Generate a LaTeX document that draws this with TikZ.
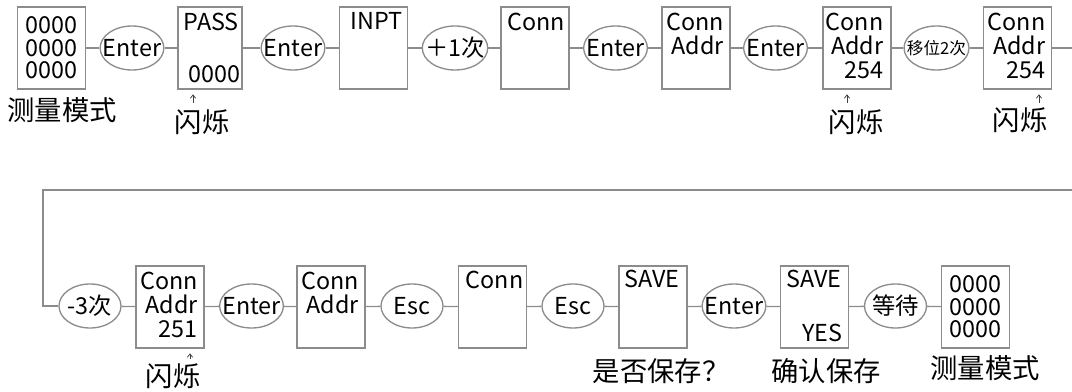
\documentclass[tikz,border=0pt]{standalone}
\usepackage{fontspec}
\setmainfont{Noto Sans CJK SC}
\usepackage{xcolor}
\usetikzlibrary{shapes.geometric,arrows.meta}

\definecolor{linegray}{RGB}{140,140,140}

\tikzset{
	panel/.style={draw=linegray, line width=1pt, minimum width=51pt, minimum height=61.5pt, inner sep=0pt},
	key/.style={ellipse, draw=linegray, line width=1pt, minimum width=46.5pt, minimum height=33pt,
		inner xsep=-5pt, inner ysep=0pt, font=\fontsize{17.5}{19}\selectfont},
	lcd/.style={inner sep=0pt, font=\fontsize{17.5}{18}\selectfont},
	zeros/.style={inner sep=0pt, align=center, font=\fontsize{17.5}{17}\selectfont},
	note/.style={inner sep=0pt, font=\fontsize{20.5}{23}\selectfont},
	link/.style={draw=linegray, line width=1pt},
	blink/.style={-{Straight Barb[length=2.5pt,width=4pt]}, line width=0.6pt, black!75, shorten >=3.5pt}
}

\begin{document}
\begin{tikzpicture}[x=0.75pt,y=-0.75pt]
	\useasboundingbox (0,0) rectangle (1072,392);
	
	\node[panel] (b1) at (51.5,48) {};
	\node[key] (k1) at (132,48) {Enter};
	\node[panel, minimum width=48pt] (b2) at (210,48) {};
	\node[key] (k2) at (293,48) {Enter};
	\node[panel] (b3) at (373.5,48) {};
	\node[key] (k3) at (455,48) {＋1次};
	\node[panel] (b4) at (535,48) {};
	\node[key] (k4) at (615.5,48) {Enter};
	\node[panel] (b5) at (696,48) {};
	\node[key] (k5) at (775.5,48) {Enter};
	\node[panel] (b6) at (857,48) {};
	\node[key, font=\fontsize{12.5}{14}\selectfont] (k6) at (936.5,48) {移位2次};
	\node[panel] (b7) at (1017.5,48) {};
	
	\node[zeros] (t1) at (b1) {0000\\0000\\0000};
	\node[lcd, anchor=north west] (t2a) at ([shift={(4.5pt,-4.5pt)}]b2.north west) {PASS};
	\node[lcd, anchor=south east] (t2b) at ([shift={(-1.5pt,5.25pt)}]b2.south east) {0000};
	\node[lcd, anchor=north east] (t3) at ([shift={(-4pt,-4pt)}]b3.north east) {INPT};
	\node[lcd, anchor=north] (t4) at ([shift={(1pt,-4.5pt)}]b4.north) {Conn};
	\node[lcd, anchor=north east, align=right] (t5) at ([shift={(-5pt,-4.5pt)}]b5.north east) {Conn\\Addr};
	\node[lcd, anchor=north east, align=right] (t6) at ([shift={(-6pt,-4.5pt)}]b6.north east) {Conn\\Addr\\254};
	\node[lcd, anchor=north east, align=right] (t7) at ([shift={(-5pt,-4.5pt)}]b7.north east) {Conn\\Addr\\254};
	
	\node[note] (n1) at (62,110) {测量模式};
	\node[note] (n2) at (202,122) {闪烁};
	\node[note] (n3) at (856,122) {闪烁};
	\node[note] (n4) at (1020,120) {闪烁};
	
	\coordinate (a2) at (193,103);
	\coordinate (a6) at (847,103);
	\coordinate (a7) at (1039,103);
	\draw[blink] (a2) -- (b2.south -| a2);
	\draw[blink] (a6) -- (b6.south -| a6);
	\draw[blink] (a7) -- (b7.south -| a7);
	
	\draw[link] (b1) -- (k1) -- (b2) -- (k2) -- (b3) -- (k3) -- (b4) -- (k4) -- (b5) -- (k5) -- (b6) -- (k6) -- (b7);
	
	\coordinate (e1) at (1072,48);
	\coordinate (e2) at (1072,190);
	\coordinate (e3) at (43,190);
	\draw[link] (b7) -- (e1);
	
	\node[key] (k7) at (90,306) {-3次};
	\node[panel] (b8) at (170,307) {};
	\node[key] (k8) at (251.5,306) {Enter};
	\node[panel] (b9) at (331,307) {};
	\node[key] (k9) at (412,306) {Esc};
	\node[panel] (b10) at (492.5,307) {};
	\node[key] (k10) at (573,306) {Esc};
	\node[panel] (b11) at (653,307) {};
	\node[key] (k11) at (734,306) {Enter};
	\node[panel] (b12) at (814.5,307) {};
	\node[key] (k12) at (895.5,306) {等待};
	\node[panel] (b13) at (975.5,307) {};
	
	\node[lcd, anchor=north east, align=right] (t8) at ([shift={(-5pt,-4.5pt)}]b8.north east) {Conn\\Addr\\251};
	\node[lcd, anchor=north east, align=right] (t9) at ([shift={(-5pt,-4.5pt)}]b9.north east) {Conn\\Addr};
	\node[lcd, anchor=north] (t10) at ([shift={(1.5pt,-4pt)}]b10.north) {Conn};
	\node[lcd, anchor=north west] (t11) at ([shift={(4.5pt,-3.5pt)}]b11.north west) {SAVE};
	\node[lcd, anchor=north west] (t12a) at ([shift={(5pt,-3.5pt)}]b12.north west) {SAVE};
	\node[lcd, anchor=south east] (t12b) at ([shift={(-5pt,5.25pt)}]b12.south east) {YES};
	\node[zeros] (t13) at (b13) {0000\\0000\\0000};
	
	\node[note] (n5) at (173,376) {闪烁};
	\node[note] (n6) at (661,371) {是否保存？};
	\node[note] (n7) at (826,371) {确认保存};
	\node[note] (n8) at (985,368) {测量模式};
	
	\coordinate (a8) at (190,359);
	\draw[blink] (a8) -- (b8.south -| a8);
	
	\draw[link] (e2) -- (e3) |- (k7);
	\draw[link] (k7) -- (b8) -- (k8) -- (b9) -- (k9) -- (b10) -- (k10) -- (b11) -- (k11) -- (b12) -- (k12) -- (b13);
	
\end{tikzpicture}
\end{document}
